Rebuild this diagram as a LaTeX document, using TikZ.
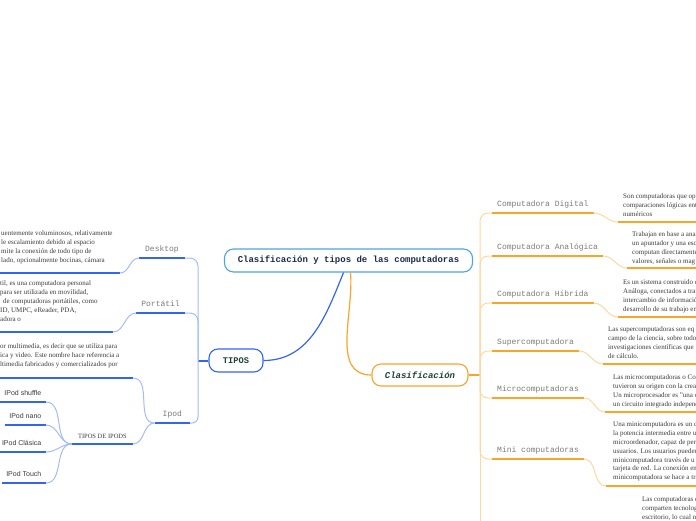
\documentclass[tikz,border=0pt]{standalone}
\usepackage{fontspec}
\setmainfont{Liberation Serif}
\setsansfont{Liberation Sans}
\setmonofont{Liberation Mono}
\definecolor{mapblue}{HTML}{3366EE}
\definecolor{linkblue}{HTML}{A3BCF7}
\definecolor{maporange}{HTML}{F6A62B}
\definecolor{linkorange}{HTML}{FCD9A2}
\definecolor{rootline}{HTML}{4FA3E0}
\definecolor{inkgray}{HTML}{7A7A7A}
\definecolor{bodytext}{HTML}{3A3A3A}
\definecolor{navytext}{HTML}{1C2C4C}
\definecolor{greentext}{HTML}{1E4438}
\tikzstyle{rootbox} = [draw=rootline, fill=white, line width=1.1pt, rounded corners=9pt, minimum width=248pt, minimum height=23pt, font=\ttfamily\bfseries\fontsize{9}{9}\selectfont, text=navytext]
\tikzstyle{typebox} = [draw=mapblue, fill=white, line width=1.1pt, rounded corners=9pt, minimum width=54pt, minimum height=23pt, font=\ttfamily\bfseries\fontsize{8.7}{9}\selectfont, text=greentext]
\tikzstyle{classbox} = [draw=maporange, fill=white, line width=1.1pt, rounded corners=9pt, minimum width=96pt, minimum height=22pt, font=\ttfamily\bfseries\itshape\fontsize{9}{9}\selectfont, text=greentext]
\tikzstyle{branchlabel} = [inner xsep=5pt, inner ysep=4.5pt, text height=6pt, text depth=2pt, font=\ttfamily\fontsize{8}{8}\selectfont, text=inkgray]
\tikzstyle{desctext} = [inner sep=0pt, align=left, font=\fontsize{7}{8.8}\selectfont, text=bodytext]
\tikzstyle{ipodlabel} = [inner xsep=4.5pt, inner ysep=4.5pt, text height=5pt, text depth=1.5pt, font=\sffamily\fontsize{7}{7}\selectfont, text=bodytext]
\tikzstyle{groupcap} = [inner xsep=6pt, inner ysep=4pt, text height=4.5pt, text depth=1pt, font=\fontsize{6.5}{6.5}\selectfont, text=bodytext]
\tikzstyle{blueline} = [mapblue, line width=2pt]
\tikzstyle{bluelink} = [linkblue, line width=1pt]
\tikzstyle{orangeline} = [maporange, line width=2pt]
\tikzstyle{orangelink} = [linkorange, line width=1pt]
\begin{document}
\begin{tikzpicture}[x=1pt, y=-1pt]
        \useasboundingbox (0,0) rectangle (696,520);
        \clip (0,0) rectangle (696,520);
        \coordinate (lft) at (-5,0);
        \coordinate (rgt) at (700,0);
        \coordinate (lhub) at (198,360.5);
        \coordinate (rhub) at (480,375);
        \coordinate (rend) at (480,530);
        % central part
        \node[rootbox] (root) at (348.5,260.5) {Clasificación y tipos de las computadoras};
        \node[typebox] (tipos) at (236,360.5) {TIPOS};
        \node[classbox] (classif) at (420,375) {Clasificación};
        \draw[mapblue, line width=1.2pt] ([xshift=-5pt]root.south) to[out=-112,in=0] (tipos.east);
        \draw[maporange, line width=1.2pt] ([xshift=2pt]root.south) to[out=-85,in=180] (classif.west);
        \draw[blueline] (tipos.west) -- (lhub);
        \draw[orangeline] (classif.east) -- (rhub);
        % right side
        \node[branchlabel, anchor=south west] (digital) at (492,213) {Computadora Digital};
        \node[branchlabel, anchor=south west] (analog) at (492,256) {Computadora Analógica};
        \node[branchlabel, anchor=south west] (hybrid) at (492,303) {Computadora Híbrida};
        \node[branchlabel, anchor=south west] (super) at (492,351) {Supercomputadora};
        \node[branchlabel, anchor=south west] (micro) at (492,398) {Microcomputadoras};
        \node[branchlabel, anchor=south west] (mini) at (492,459) {Mini computadoras};
        \foreach \b in {digital, analog, hybrid, super, micro, mini} {
            \draw[orangelink, rounded corners=8pt] (rhub) |- (\b.south west);
            \draw[orangeline] (\b.south west) -- (\b.south east);
        }
        \draw[orangelink] (rhub) -- (rend);
        \node[desctext, anchor=north west] (digtxt) at (623,193.8) {Son computadoras que op\\comparaciones lógicas ent\\numéricos};
        \node[desctext, anchor=north west] (anatxt) at (632,231.8) {Trabajan en base a ana\\un apuntador y una esc\\computan directamente\\valores, señales o mag};
        \node[desctext, anchor=north west] (hibtxt) at (623,279.8) {Es un sistema construido c\\Análoga, conectados a trav\\intercambio de informació\\desarrollo de su trabajo en};
        \node[desctext, anchor=north west] (suptxt) at (608,326.8) {Las supercomputadoras son eq\\campo de la ciencia, sobre todo\\investigaciones científicas que\\de cálculo.};
        \node[desctext, anchor=north west] (mictxt) at (613,374.8) {Las microcomputadoras o Co\\tuvieron su origen con la crea\\Un microprocesador es "una c\\un circuito integrado independ};
        \node[desctext, anchor=north west] (mintxt) at (613,421.8) {Una minicomputadora es un c\\la potencia intermedia entre u\\microordenador, capaz de per\\usuarios. Los usuarios pueden\\minicomputadora través de u\\tarjeta de red. La conexión en\\minicomputadora se hace a tra};
        \node[desctext, anchor=north west] (lastxt) at (642,496.8) {Las computadoras d\\comparten tecnolog\\escritorio, lo cual n};
        \coordinate (digline) at (618,222);
        \coordinate (analine) at (627,268);
        \coordinate (hibline) at (618,317);
        \coordinate (supline) at (603,364);
        \coordinate (micline) at (605,412);
        \coordinate (minline) at (606,486);
        \draw[orangelink] (digital.south east) to[out=0,in=180] (digline);
        \draw[orangelink] (analog.south east) to[out=0,in=180] (analine);
        \draw[orangelink] (hybrid.south east) to[out=0,in=180] (hibline);
        \draw[orangelink] (super.south east) to[out=0,in=180] (supline);
        \draw[orangelink] (micro.south east) to[out=0,in=180] (micline);
        \draw[orangelink] (mini.south east) to[out=0,in=180] (minline);
        \foreach \c in {digline, analine, hibline, supline, micline, minline}
            \draw[orangeline] (\c) -- (\c -| rgt);
        % left side
        \node[branchlabel, anchor=south east, inner xsep=6pt] (desktop) at (185,258) {Desktop};
        \node[branchlabel, anchor=south east] (portatil) at (185,313) {Portátil};
        \node[branchlabel, anchor=south east, minimum width=35pt] (ipod) at (190,423) {Ipod};
        \draw[bluelink, rounded corners=8pt] (lhub) |- (desktop.south east);
        \draw[bluelink, rounded corners=8pt] (lhub) |- (portatil.south east);
        \draw[bluelink, rounded corners=6pt] (lhub) |- (ipod.south east);
        \foreach \b in {desktop, portatil, ipod}
            \draw[blueline] (\b.south west) -- (\b.south east);
        \node[desctext, anchor=north west] (dsktxt) at (1,230.8) {uentemente voluminosos, relativamente\\le escalamiento debido al espacio\\mite la conexión de todo tipo de\\lado, opcionalmente bocinas, cámara};
        \node[desctext, anchor=north west] (portxt) at (0,280.8) {til, es una computadora personal\\para ser utilizada en movilidad,\\\hspace{3pt}de computadoras portátiles, como\\ID, UMPC, eReader, PDA,\\adora o};
        \node[desctext, anchor=north west] (ipdtxt) at (0,343.8) {or multimedia, es decir que se utiliza para\\ica y video. Este nombre hace referencia a\\ltimedia fabricados y comercializados por};
        \coordinate (dskline) at (120,273);
        \coordinate (porline) at (113,332);
        \coordinate (ipdline) at (133,378);
        \foreach \c in {dskline, porline, ipdline}
            \draw[blueline] (\c -| lft) -- (\c);
        \draw[bluelink] (dskline) to[out=0,in=180] (desktop.south west);
        \draw[bluelink] (porline) to[out=0,in=180] (portatil.south west);
        \draw[bluelink] (ipdline) to[out=0,in=180] (ipod.south west);
        % ipod types
        \node[groupcap, anchor=south east] (ipodtypes) at (133,444) {TIPOS DE IPODS};
        \draw[bluelink] (ipod.south west) to[out=180,in=0] (ipodtypes.south east);
        \draw[blueline] (ipodtypes.south west) -- (ipodtypes.south east);
        \node[ipodlabel, anchor=south east] (shuffle) at (46,402) {IPod shuffle};
        \node[ipodlabel, anchor=south east] (nano) at (46,425) {IPod nano};
        \node[ipodlabel, anchor=south east] (clasica) at (46,452) {IPod Clásica};
        \node[ipodlabel, anchor=south east] (touch) at (46,483) {IPod Touch};
        \foreach \i in {shuffle, nano, clasica, touch} {
            \draw[bluelink] (ipodtypes.south west) to[out=180,in=0] (\i.south east);
            \draw[blueline] (\i.south west) -- (\i.south east);
        }
    \end{tikzpicture}
\end{document}
